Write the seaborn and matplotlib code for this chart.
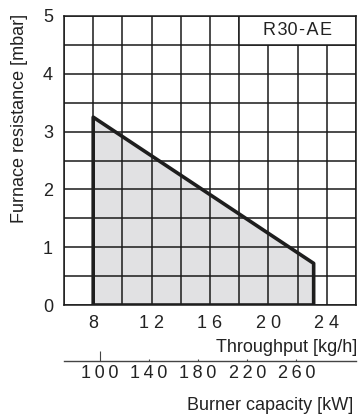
import numpy as np
import pandas as pd
import seaborn as sns
import matplotlib.pyplot as plt
from matplotlib.patches import Rectangle

# working field of the burner (throughput kg/h vs furnace resistance mbar)
field_x = [8.0, 8.0, 23.1, 23.1, 8.0]
field_y = [0.0, 3.25, 0.72, 0.0, 0.0]

x_grid = np.arange(6, 27, 2)
y_grid = np.arange(0, 5.01, 0.5)
x_labels = ['8', '1 2', '1 6', '2 0', '2 4']
x_label_pos = [8, 12, 16, 20, 24]
y_labels = ['0', '1', '2', '3', '4', '5']

kw_ticks = [100, 140, 180, 220, 260]
kw_labels = ['1\u20090\u20090', '1\u20094\u20090', '1\u20098\u20090',
             '2\u20092\u20090', '2\u20096\u20090']
kw_per_kg = 11.86                                    # kW per kg/h of oil

model = 'R\u200a30\u200a-\u200aA\u200aE'

sns.set_theme(style='white')
plt.rcParams['font.family'] = ['Liberation Sans', 'DejaVu Sans']
txt = '#222222'
fs = 13

fig = plt.figure(figsize=(3.58, 4.17), dpi=100)
ax = fig.add_axes([64/358, 1-305/417, 292/358, 289/417])

df = pd.DataFrame({'x': field_x, 'y': field_y})
ax.fill(df['x'], df['y'], color='#e1e1e3', zorder=0.3, lw=0)
sns.lineplot(data=df, x='x', y='y', sort=False, estimator=None, ax=ax,
             color='#1e1e1e', lw=2.6, zorder=3)

ax.set_xlim(6, 26)
ax.set_ylim(0, 5)
ax.set_xticks(x_grid, minor=True)
ax.set_yticks(y_grid, minor=True)
ax.set_xticks(x_label_pos, x_labels)
ax.set_yticks(range(6), y_labels)
ax.set_axisbelow(True)
ax.grid(which='both', color='#1a1a1a', lw=1.1)
ax.tick_params(which='both', length=0, labelsize=fs, labelcolor=txt)
ax.tick_params(axis='x', pad=7)
ax.tick_params(axis='y', pad=8)
for s in ax.spines.values():
    s.set_color('#1a1a1a')
    s.set_linewidth(1.1)
ax.set_xlabel('')
ax.set_ylabel('')

ax.add_patch(Rectangle((18, 4.5), 8, 0.5, facecolor='white', edgecolor='#1a1a1a',
                       lw=1.1, zorder=1))
ax.text(22, 4.75, model, ha='center', va='center', fontsize=fs, color=txt)

# second scale in kW
sec = ax.secondary_xaxis(-(361-305)/289, functions=(lambda v: v*kw_per_kg,
                                                    lambda v: v/kw_per_kg))
sec.set_xticks(kw_ticks, kw_labels)
sec.tick_params(direction='in', length=1.5, width=0.8, color='#444444',
                labelsize=fs, labelcolor=txt, pad=3)
sec.spines['bottom'].set_color('#444444')
sec.spines['bottom'].set_linewidth(1.0)
sec.xaxis.get_major_ticks()[0].tick1line.set_markersize(7)

fig.text(20/358, 1-118/417, 'Furnace resistance [mbar]', rotation=90,
         ha='center', va='center', fontsize=fs, color=txt)
fig.text(357/358, 1-347/417, 'Throughput [kg/h]', ha='right', va='center',
         fontsize=fs, color=txt)
fig.text(353/358, 1-406/417, 'Burner capacity [kW]', ha='right', va='center',
         fontsize=fs, color=txt)

fig.savefig('out.png', dpi=100)
